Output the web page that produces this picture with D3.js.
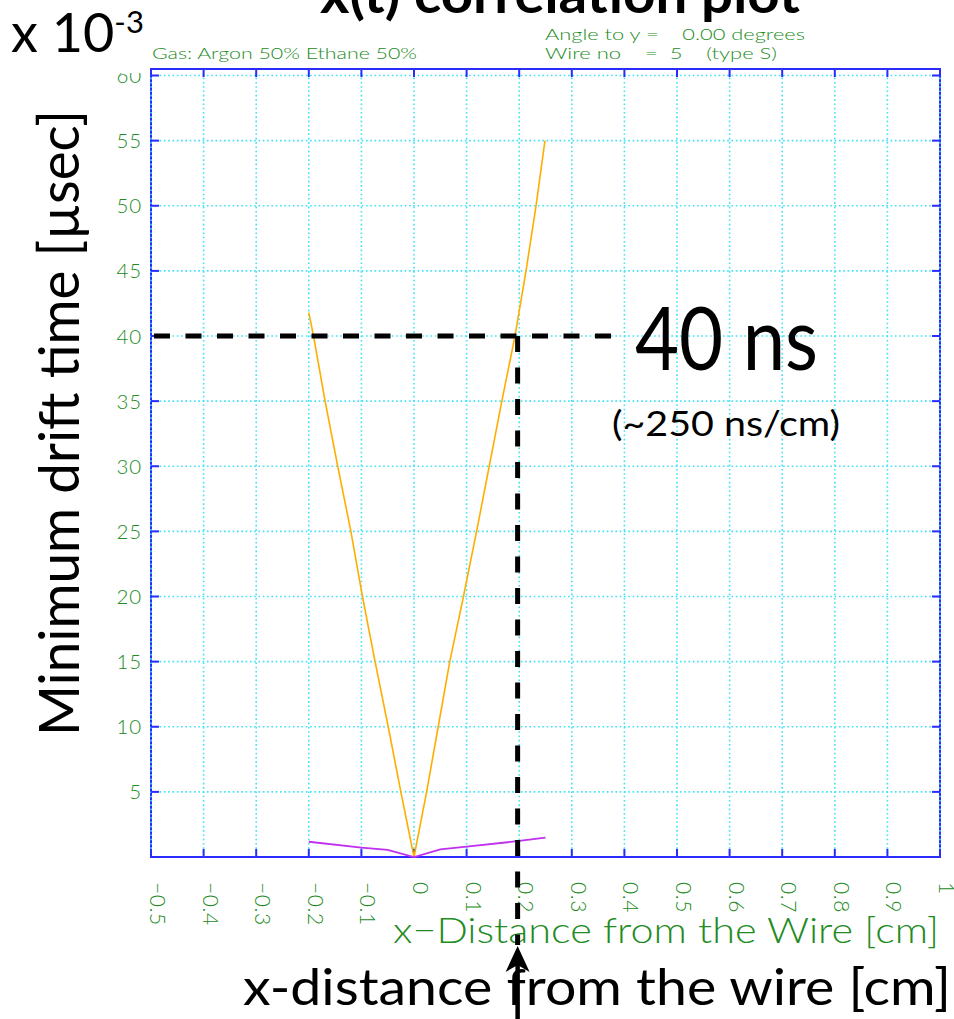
<!DOCTYPE html>
<html>
<head>
<meta charset="utf-8">
<script src="https://cdn.jsdelivr.net/npm/d3@7"></script>
<style>
  html, body { margin: 0; padding: 0; background: #fff; }
  svg { display: block; }
  .hershey { font-family: "Lato", "DejaVu Sans", sans-serif; font-weight: 300; fill: #228b22; }
  .over { font-family: "Lato", "Open Sans", sans-serif; fill: #000; }
</style>
</head>
<body>
<svg id="chart" width="954" height="1019"></svg>
<script>
// x–t relation: drift time (x 10^-3 µsec) versus x-distance from the wire (cm)
const xTickValues = [-0.5, -0.4, -0.3, -0.2, -0.1, 0, 0.1, 0.2, 0.3, 0.4, 0.5, 0.6, 0.7, 0.8, 0.9, 1.0];
const xTickLabels = ["\u22120.5", "\u22120.4", "\u22120.3", "\u22120.2", "\u22120.1", "0", "0.1", "0.2", "0.3", "0.4", "0.5", "0.6", "0.7", "0.8", "0.9", "1"];
const yTickValues = [5, 10, 15, 20, 25, 30, 35, 40, 45, 50, 55, 60];
const yTickLabels = ["5", "10", "15", "20", "25", "30", "35", "40", "45", "50", "55", "60"];

// minimum drift time curve
const driftX = [-0.200, -0.191, -0.169, -0.145, -0.120, -0.098, -0.074, -0.049, -0.025, 0.000,
                0.024, 0.046, 0.068, 0.094, 0.119, 0.143, 0.167, 0.192, 0.213, 0.232, 0.249];
const driftT = [41.8, 40, 35, 30, 25, 20, 15, 10, 5, 0,
                5, 10, 15, 20, 25, 30, 35, 40, 45, 50, 55];

// lower (purple) curve
const lowX = [-0.2, -0.1, -0.05, 0, 0.05, 0.1, 0.2, 0.25];
const lowT = [1.17, 0.72, 0.54, 0, 0.59, 0.79, 1.23, 1.48];

// annotated reading: 40 ns at x ≈ 0.197 cm
const markT = 40;
const markX = 0.197;

const xDomain = [-0.5, 1.0];
const yDomain = [0, 60.5];

const svg = d3.select("#chart");
const plot = { left: 151, right: 940, top: 69, bottom: 857 };

const x = d3.scaleLinear().domain(xDomain).range([plot.left, plot.right]);
const y = d3.scaleLinear().domain(yDomain).range([plot.bottom, plot.top]);

const blue = "#2b2bff";
const cyan = "#3fe3f5";

// clip for the partly hidden top label
svg.append("defs").append("clipPath").attr("id", "labelClip")
  .append("rect").attr("x", 0).attr("y", 73).attr("width", 954).attr("height", 946);

// frame
svg.append("rect")
  .attr("x", plot.left).attr("y", plot.top)
  .attr("width", plot.right - plot.left).attr("height", plot.bottom - plot.top)
  .attr("fill", "none").attr("stroke", blue).attr("stroke-width", 2);

// dotted grid
const grid = svg.append("g").attr("stroke", cyan).attr("stroke-width", 1.6)
  .attr("stroke-dasharray", "1.6,2.7").attr("fill", "none");
grid.selectAll("line.v").data(xTickValues).join("line").attr("class", "v")
  .attr("x1", d => x(d)).attr("x2", d => x(d))
  .attr("y1", plot.top).attr("y2", plot.bottom);
grid.selectAll("line.h").data(yTickValues).join("line").attr("class", "h")
  .attr("x1", plot.left).attr("x2", plot.right)
  .attr("y1", d => y(d)).attr("y2", d => y(d));

// inward ticks on all four sides
const tickLen = 8;
const ticks = svg.append("g").attr("stroke", blue).attr("stroke-width", 2);
ticks.selectAll("line.b").data(xTickValues).join("line").attr("class", "b")
  .attr("x1", d => x(d)).attr("x2", d => x(d))
  .attr("y1", plot.bottom).attr("y2", plot.bottom - tickLen);
ticks.selectAll("line.t").data(xTickValues).join("line").attr("class", "t")
  .attr("x1", d => x(d)).attr("x2", d => x(d))
  .attr("y1", plot.top).attr("y2", plot.top + tickLen);
ticks.selectAll("line.l").data(yTickValues).join("line").attr("class", "l")
  .attr("x1", plot.left).attr("x2", plot.left + tickLen)
  .attr("y1", d => y(d)).attr("y2", d => y(d));
ticks.selectAll("line.r").data(yTickValues).join("line").attr("class", "r")
  .attr("x1", plot.right).attr("x2", plot.right - tickLen)
  .attr("y1", d => y(d)).attr("y2", d => y(d));

// tick labels
svg.append("g").attr("class", "hershey").attr("clip-path", "url(#labelClip)")
  .selectAll("text").data(yTickValues).join("text")
  .attr("x", plot.left - 9).attr("y", d => y(d) + 7.5)
  .attr("text-anchor", "end").attr("font-size", 20.5).attr("letter-spacing", 0.8)
  .text((d, i) => yTickLabels[i]);

svg.append("g").attr("class", "hershey")
  .selectAll("text").data(xTickValues).join("text")
  .attr("transform", d => `translate(${x(d) - 1},${plot.bottom + 25}) rotate(90)`)
  .attr("text-anchor", "start").attr("font-size", 21).attr("letter-spacing", 0.6)
  .text((d, i) => xTickLabels[i]);

// axis title and header in the plot's green
svg.append("text").attr("class", "hershey")
  .attr("x", 393).attr("y", 943).attr("font-size", 35)
  .attr("textLength", 546).attr("lengthAdjust", "spacingAndGlyphs")
  .text("x\u2212Distance from the Wire [cm]");

svg.append("text").attr("class", "hershey").attr("xml:space", "preserve")
  .attr("x", 152).attr("y", 59).attr("font-size", 16.5)
  .attr("textLength", 265).attr("lengthAdjust", "spacingAndGlyphs")
  .text("Gas: Argon 50% Ethane 50%");
svg.append("text").attr("class", "hershey").attr("xml:space", "preserve")
  .attr("x", 545).attr("y", 40).attr("font-size", 16.5)
  .attr("textLength", 260).attr("lengthAdjust", "spacingAndGlyphs")
  .text("Angle to y =    0.00 degrees");
svg.append("text").attr("class", "hershey").attr("xml:space", "preserve")
  .attr("x", 545).attr("y", 59).attr("font-size", 16.5)
  .attr("textLength", 232).attr("lengthAdjust", "spacingAndGlyphs")
  .text("Wire no    =  5    (type S)");

// data curves
const line = d3.line().x(d => x(d[0])).y(d => y(d[1]));
svg.append("path")
  .datum(driftX.map((v, i) => [v, driftT[i]]))
  .attr("d", line).attr("fill", "none")
  .attr("stroke", "#ffae00").attr("stroke-width", 1.6);
svg.append("path")
  .datum(lowX.map((v, i) => [v, lowT[i]]))
  .attr("d", line).attr("fill", "none")
  .attr("stroke", "#c030f0").attr("stroke-width", 1.8);

// reading guide lines
const guide = svg.append("g").attr("stroke", "#000").attr("stroke-width", 5)
  .attr("stroke-dasharray", "16,15.5").attr("fill", "none");
guide.append("line")
  .attr("x1", x(-0.5) + 3).attr("x2", x(0.4) + 1)
  .attr("y1", y(markT)).attr("y2", y(markT));
guide.append("line")
  .attr("x1", x(markX)).attr("x2", x(markX))
  .attr("y1", y(markT)).attr("y2", plot.bottom + 88);

// arrow pointing up at the reading
const ax = x(markX);
const tipY = plot.bottom + 89;
svg.append("line")
  .attr("x1", ax).attr("x2", ax).attr("y1", tipY + 14).attr("y2", 1019)
  .attr("stroke", "#000").attr("stroke-width", 4.5);
svg.append("path")
  .attr("d", `M${ax},${tipY} L${ax + 12},${tipY + 26} L${ax},${tipY + 19} L${ax - 12},${tipY + 26} Z`)
  .attr("fill", "#000");

// black overlay labels
svg.append("text").attr("class", "over")
  .attr("x", 320).attr("y", 13).attr("font-size", 54).attr("font-weight", 700)
  .attr("textLength", 480).attr("lengthAdjust", "spacingAndGlyphs")
  .text("x(t) correlation plot");

const sci = svg.append("text").attr("class", "over").attr("x", 11).attr("y", 52).attr("font-size", 54);
sci.append("tspan").text("x 10");
sci.append("tspan").attr("dy", -19).attr("font-size", 31).text("-3");

svg.append("text").attr("class", "over")
  .attr("transform", "translate(79,736) rotate(-90)")
  .attr("font-size", 56)
  .attr("textLength", 626).attr("lengthAdjust", "spacingAndGlyphs")
  .text("Minimum drift time [\u00b5sec]");

svg.append("text").attr("class", "over")
  .attr("x", 635).attr("y", 370).attr("font-size", 88)
  .attr("textLength", 183).attr("lengthAdjust", "spacingAndGlyphs")
  .text("40 ns");

svg.append("text").attr("class", "over")
  .attr("x", 612).attr("y", 436).attr("font-size", 35)
  .attr("textLength", 228).attr("lengthAdjust", "spacingAndGlyphs")
  .text("(~250 ns/cm)");

svg.append("text").attr("class", "over")
  .attr("x", 243).attr("y", 1005).attr("font-size", 51)
  .attr("textLength", 708).attr("lengthAdjust", "spacingAndGlyphs")
  .text("x-distance from the wire [cm]");
</script>
</body>
</html>
